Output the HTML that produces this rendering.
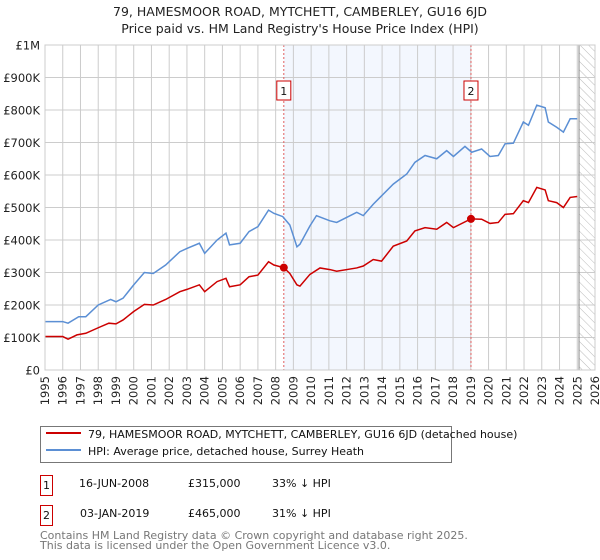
<!DOCTYPE html>
<html><head><meta charset="utf-8"><style>
body{margin:0;background:#fff;font-family:"DejaVu Sans","Liberation Sans",sans-serif;}
#wrap{position:relative;width:600px;height:560px;overflow:hidden}
</style></head><body>
<div id="wrap">
<svg id="chart" width="600" height="560" xmlns="http://www.w3.org/2000/svg" style="position:absolute;left:0;top:0;font-family:'DejaVu Sans','Liberation Sans',sans-serif">
<defs><pattern id="hatch" width="6" height="6" patternUnits="userSpaceOnUse" patternTransform="rotate(-45)"><line x1="0" y1="0" x2="0" y2="6" stroke="#bbb" stroke-width="1"/></pattern></defs>
<text x="300" y="16" text-anchor="middle" font-size="12.5" fill="#222">79, HAMESMOOR ROAD, MYTCHETT, CAMBERLEY, GU16 6JD</text>
<text x="300" y="33" text-anchor="middle" font-size="12.5" fill="#222">Price paid vs. HM Land Registry's House Price Index (HPI)</text>
<g id="plot"></g>
</svg>
<div style="position:absolute;left:40px;top:426px;width:410px;height:35px;border:1px solid #777;font-size:11px;color:#111">
 <div style="position:absolute;left:5px;top:5px;width:35px;height:2px;background:#cc0000"></div>
 <div style="position:absolute;left:47px;top:1px;white-space:nowrap">79, HAMESMOOR ROAD, MYTCHETT, CAMBERLEY, GU16 6JD (detached house)</div>
 <div style="position:absolute;left:5px;top:22px;width:35px;height:2px;background:#5b8fd4"></div>
 <div style="position:absolute;left:47px;top:18px;white-space:nowrap">HPI: Average price, detached house, Surrey Heath</div>
</div>
<div style="position:absolute;left:40px;top:475px;font-size:11px;color:#111;width:400px;height:22px">
 <div style="position:absolute;left:0;top:0;width:11px;height:19px;border:1px solid #cc0000;text-align:center;line-height:19px">1</div>
 <span style="position:absolute;left:39px;top:2px">16-JUN-2008</span><span style="position:absolute;left:148px;top:2px">£315,000</span><span style="position:absolute;left:232px;top:2px">33% ↓ HPI</span>
</div>
<div style="position:absolute;left:40px;top:505px;font-size:11px;color:#111;width:400px;height:22px">
 <div style="position:absolute;left:0;top:0;width:11px;height:19px;border:1px solid #cc0000;text-align:center;line-height:19px">2</div>
 <span style="position:absolute;left:40px;top:2px">03-JAN-2019</span><span style="position:absolute;left:148px;top:2px">£465,000</span><span style="position:absolute;left:232px;top:2px">31% ↓ HPI</span>
</div>
<div style="position:absolute;left:40px;top:531px;font-size:11px;color:#777;line-height:10px">Contains HM Land Registry data © Crown copyright and database right 2025.<br>This data is licensed under the Open Government Licence v3.0.</div>
</div>
<script>
const yearTicks=[1995,1996,1997,1998,1999,2000,2001,2002,2003,2004,2005,2006,2007,2008,2009,2010,2011,2012,2013,2014,2015,2016,2017,2018,2019,2020,2021,2022,2023,2024,2025,2026];
const valueTicks=[0,100,200,300,400,500,600,700,800,900,1000];
const valueTickLabels=["£0","£100K","£200K","£300K","£400K","£500K","£600K","£700K","£800K","£900K","£1M"];
const hpiYears=[1995,1996,1996.3,1996.9,1997.3,1998,1998.7,1999,1999.4,2000,2000.6,2001.1,2001.8,2002.6,2003,2003.7,2004,2004.7,2005.2,2005.4,2006,2006.5,2007,2007.6,2007.9,2008.4,2008.8,2009.2,2009.37,2009.93,2010.3,2011.06,2011.44,2012.57,2012.94,2013.5,2013.88,2014.63,2015.39,2015.85,2016.42,2017.08,2017.64,2018.02,2018.67,2019.05,2019.61,2020.08,2020.55,2020.93,2021.4,2021.96,2022.25,2022.72,2023.19,2023.37,2023.84,2024.22,2024.6,2025.0];
const hpiValues=[149,149,144,164,164,200,217,210,221,262,300,297,323,364,374,390,359,400,421,385,390,426,441,492,482,472,446,379,387,443,475,459,454,485,475,510,531,572,603,639,660,650,675,657,688,670,680,657,660,696,698,763,753,815,807,763,747,732,773,773];
const ppYears=[1995,1996,1996.3,1996.8,1997.3,1998,1998.6,1999,1999.4,2000,2000.6,2001.1,2001.8,2002.6,2003,2003.7,2004,2004.7,2005.2,2005.4,2006,2006.5,2007,2007.6,2007.9,2008.46,2008.8,2009.2,2009.37,2009.93,2010.5,2011.06,2011.44,2012.57,2012.94,2013.5,2013.97,2014.63,2015.39,2015.85,2016.42,2017.08,2017.64,2018.02,2019.01,2019.61,2020.08,2020.55,2020.93,2021.4,2021.96,2022.25,2022.72,2023.19,2023.37,2023.84,2024.22,2024.6,2025.0];
const ppValues=[103,103,95,108,113,130,144,142,154,180,202,200,217,241,248,262,241,272,282,256,262,287,292,333,323,315,297,262,258,294,314,309,304,314,320,340,335,381,397,428,438,433,454,438,465,464,451,454,479,481,521,515,562,554,521,515,500,531,534];
const saleYears=[2008.46,2019.01];
const saleValues=[315,465];
const saleLabels=["1","2"];
const forecastStart=2025.1;

const NS="http://www.w3.org/2000/svg";
const L=45,R=595,T=45,B=370,X0=1995,X1=2026,VMAX=1000;
const xs=y=>L+(y-X0)/(X1-X0)*(R-L);
const ys=v=>B-v/VMAX*(B-T);
const g=document.getElementById('plot');
function mk(tag,attrs){const e=document.createElementNS(NS,tag);for(const k in attrs)e.setAttribute(k,attrs[k]);g.appendChild(e);return e;}
let e;
e=mk('rect',{x:xs(saleYears[0]),y:T,width:xs(saleYears[1])-xs(saleYears[0]),height:B-T,fill:'#eef3fd',opacity:0.7});


e=mk('rect',{x:xs(forecastStart),y:T,width:R-xs(forecastStart),height:B-T,fill:'url(#hatch)'});


yearTicks.forEach(yr=>{
 e=mk('line',{x1:xs(yr),x2:xs(yr),y1:T,y2:B,stroke:'#cccccc','stroke-width':1});
 
 
 e=mk('text',{transform:`translate(${xs(yr)+4},376) rotate(-90)`,'text-anchor':'end','font-size':11.5,fill:'#222'});
 e.textContent=yr;
 
 
});
valueTicks.forEach((v,i)=>{
 e=mk('line',{x1:L,x2:R,y1:ys(v),y2:ys(v),stroke:'#cccccc','stroke-width':1});
 
 
 e=mk('text',{x:L-5,y:ys(v)+4.5,'text-anchor':'end','font-size':11.5,fill:'#222'});
 e.textContent=valueTickLabels[i];
 
 
});
e=mk('line',{x1:xs(forecastStart),x2:xs(forecastStart),y1:T,y2:B,stroke:'#888','stroke-width':1});


saleYears.forEach((yr,i)=>{
 e=mk('line',{x1:xs(yr),x2:xs(yr),y1:T,y2:B,stroke:'#e06060','stroke-width':1,'stroke-dasharray':'2,2'});
 
 
 e=mk('rect',{x:xs(yr)-7,y:81,width:14,height:19,fill:'#fff',stroke:'#cc0000','stroke-width':1});
 
 
 e=mk('text',{x:xs(yr),y:95,'text-anchor':'middle','font-size':11,fill:'#111'});
 e.textContent=saleLabels[i];
 
 
});
e=mk('polyline',{points:hpiYears.map((y,i)=>xs(y)+','+ys(hpiValues[i])).join(' '),fill:'none',stroke:'#5b8fd4','stroke-width':1.5});


e=mk('polyline',{points:ppYears.map((y,i)=>xs(y)+','+ys(ppValues[i])).join(' '),fill:'none',stroke:'#cc0000','stroke-width':1.5});


saleYears.forEach((yr,i)=>{
 e=mk('circle',{cx:xs(yr),cy:ys(saleValues[i]),r:4,fill:'#cc0000'});
 
 
});
e=mk('rect',{x:L,y:T,width:R-L,height:B-T,fill:'none',stroke:'#cccccc','stroke-width':1});


</script>
</body></html>
